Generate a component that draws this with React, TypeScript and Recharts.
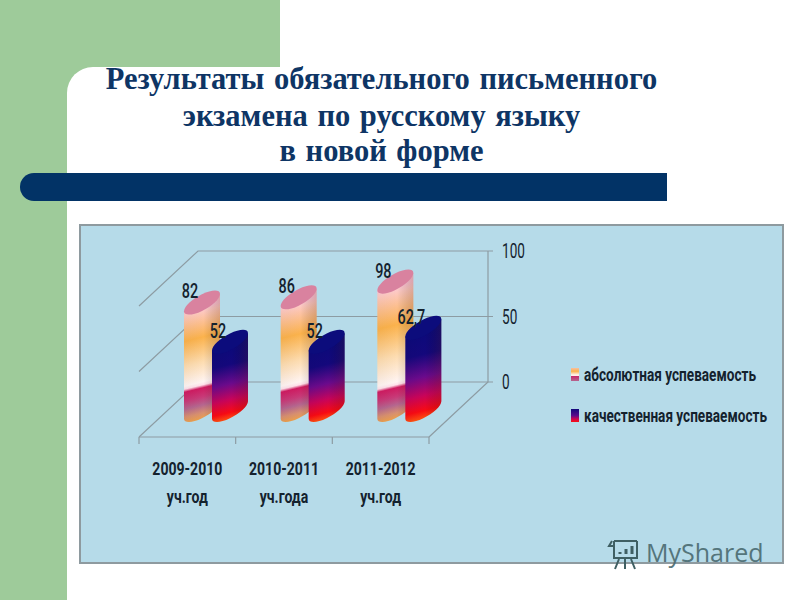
import { BarChart, Bar, XAxis, YAxis, CartesianGrid, Legend, LabelList } from 'recharts';

const CATEGORIES = ['2009-2010', '2010-2011', '2011-2012'];
const CATEGORY_UNITS = ['уч.год', 'уч.года', 'уч.год'];
const ABSOLUTE = [82, 86, 98];
const QUALITY = [52, 52, 62.7];
const Y_TICKS = [0, 50, 100];
const TITLE_LINES = [
  'Результаты обязательного письменного',
  'экзамена по русскому языку',
  'в новой форме',
];
const ABSOLUTE_NAME = 'абсолютная успеваемость';
const QUALITY_NAME = 'качественная успеваемость';

const data = CATEGORIES.map((category, i) => ({
  category,
  unit: CATEGORY_UNITS[i],
  absolute: ABSOLUTE[i],
  quality: QUALITY[i],
}));

// fake 3D: back wall sits up and right of the front floor edge, bars stand half way
const DEPTH_X = 59;
const DEPTH_Y = -55;
const BAR_DX = 29;
const BAR_DY = -27;
const LINE = '#8d9ca3';
const TEXT = '#14222e';
const FONT = 'Roboto, sans-serif';
const BAND = 290 / 3;

const SKEW = 8.7; // how much the cap rises from left to right
const CAP_B = 8.3;
const K = 0.5523;

function capPath(cx: number, cy: number, a: number) {
  const p = (u: number, v: number) => `${cx + a * u} ${cy - SKEW * u + CAP_B * v}`;
  return `M${p(1, 0)} C${p(1, K)} ${p(K, 1)} ${p(0, 1)} C${p(-K, 1)} ${p(-1, K)} ${p(-1, 0)} C${p(-1, -K)} ${p(-K, -1)} ${p(0, -1)} C${p(K, -1)} ${p(1, -K)} ${p(1, 0)} Z`;
}

function bodyPath(cx: number, top: number, bottom: number, a: number) {
  const p = (y: number, u: number, v: number) => `${cx + a * u} ${y - SKEW * u + CAP_B * v}`;
  return `M${p(top, -1, 0)} L${p(bottom, -1, 0)} C${p(bottom, -1, K)} ${p(bottom, -K, 1)} ${p(bottom, 0, 1)} C${p(bottom, K, 1)} ${p(bottom, 1, K)} ${p(bottom, 1, 0)} L${p(top, 1, 0)} Z`;
}

type Stop = [number, string];

function Cylinder(props: any) {
  const { x, y, width, height, index, kind } = props;
  const cx = x + width / 2 + BAR_DX;
  const top = y + BAR_DY;
  const bottom = y + height + BAR_DY;
  const a = width / 2;
  const end = bottom + 12;
  const H = end - top;
  const id = `${kind}-${index}`;
  // gradient runs across the tilt of the caps, but flatter than the caps themselves
  const slope = (SKEW / a) * 0.5;
  const u = (slope * H) / (1 + slope * slope);
  const at = (yy: number) => (yy - top) / H;

  let stops: Stop[];
  let capFill: string;
  if (kind === 'absolute') {
    const white = bottom - 25;
    const span = white - top;
    stops = [
      [at(top + 4), '#fbc4d6'],
      [at(top + span * 0.1), '#fdc9c4'],
      [at(top + span * 0.42), '#fbb24c'],
      [at(top + span * 0.72), '#fddcb0'],
      [at(white - 3), '#fff4f2'],
      [at(white), '#ffe0ea'],
      [at(white + 3), '#cf1c62'],
      [at(white + 12), '#c83a78'],
      [at(white + 20), '#b5668f'],
      [at(white + 28), '#d89070'],
      [1, '#f4a63c'],
    ];
    capFill = '#d9829f';
  } else {
    stops = [
      [0, '#0a0a7a'],
      [0.28, '#14087c'],
      [0.52, '#6a0a8c'],
      [0.72, '#c8045a'],
      [0.88, '#f80a14'],
      [1, '#ff6a10'],
    ];
    capFill = '#0c0c7c';
  }

  return (
    <g>
      <defs>
        <linearGradient
          id={id}
          gradientUnits="userSpaceOnUse"
          x1={cx}
          y1={top}
          x2={cx + u}
          y2={end - slope * u}
        >
          {stops.map(([offset, color]) => (
            <stop key={`${offset}-${color}`} offset={offset} stopColor={color} />
          ))}
        </linearGradient>
      </defs>
      <path d={bodyPath(cx, top, bottom, a)} fill={`url(#${id})`} />
      <path d={bodyPath(cx, top, bottom, a)} fill="url(#shade)" />
      <path d={capPath(cx, top, a)} fill={capFill} />
    </g>
  );
}

// calibri-ish narrow text: Roboto squeezed horizontally
function NarrowText({ x, y, sx, size, weight, anchor, children }: any) {
  return (
    <text
      transform={`translate(${x} ${y}) scale(${sx} 1)`}
      textAnchor={anchor || 'middle'}
      dominantBaseline="central"
      fontFamily={FONT}
      fontWeight={weight}
      fontSize={size}
      fill={TEXT}
    >
      {children}
    </text>
  );
}

function BarValue(props: any) {
  const { x, y, width, value } = props;
  return (
    <NarrowText x={x + width / 2 + BAR_DX - 12} y={y + BAR_DY - 11} sx={0.72} size={20} weight={500}>
      {String(value).replace('.', ',')}
    </NarrowText>
  );
}

function WallLine(props: any) {
  const { x1, x2, y1, y2 } = props;
  const d = `M${x1} ${y1} L${x1 + DEPTH_X} ${y1 + DEPTH_Y} L${x2 + DEPTH_X + 5} ${y2 + DEPTH_Y}`;
  return <path d={d} fill="none" stroke={LINE} strokeWidth={1.2} />;
}

function BackEdge(props: any) {
  const { x1, y1, y2 } = props;
  const d = `M${x1 + DEPTH_X} ${y1 + DEPTH_Y} L${x1 + DEPTH_X} ${y2 + DEPTH_Y} L${x1} ${y2}`;
  return <path d={d} fill="none" stroke={LINE} strokeWidth={1.2} />;
}

function YTick(props: any) {
  const { x, y, payload } = props;
  return (
    <NarrowText x={x + DEPTH_X + 6} y={y + DEPTH_Y} sx={0.68} size={20} weight={400} anchor="start">
      {payload.value}
    </NarrowText>
  );
}

function XTick(props: any) {
  const { x, y, payload, index } = props;
  const left = x - BAND / 2;
  return (
    <g>
      <line x1={left} x2={left} y1={y - 8} y2={y - 1} stroke={LINE} strokeWidth={1.2} />
      {index === CATEGORIES.length - 1 && (
        <line x1={left + BAND} x2={left + BAND} y1={y - 8} y2={y - 1} stroke={LINE} strokeWidth={1.2} />
      )}
      <NarrowText x={x} y={y + 23} sx={0.74} size={19} weight="bold">
        {payload.value}
      </NarrowText>
      <NarrowText x={x} y={y + 51} sx={0.74} size={19} weight="bold">
        {CATEGORY_UNITS[index]}
      </NarrowText>
    </g>
  );
}

const SWATCHES = [
  'linear-gradient(#f8c0a0 0%, #fbb24c 25%, #fff0e8 52%, #fff0e8 58%, #c8286c 62%, #b5668f 100%)',
  'linear-gradient(#12087c 0%, #5a0a8c 50%, #d00450 78%, #f81010 100%)',
];
const LEGEND_WIDTHS = [172, 183];

function LegendBox(props: any) {
  const { payload } = props;
  return (
    <div style={{ position: 'relative' }}>
      {(payload || []).map((entry: any, i: number) => (
        <div key={entry.value} style={{ position: 'absolute', left: 0, top: i * 41, width: 200, height: 24 }}>
          <span style={{ position: 'absolute', left: 0, top: 4, width: 8, height: 13, background: SWATCHES[i] }} />
          <svg style={{ position: 'absolute', left: 13, top: 0, overflow: 'visible' }} width={215} height={24}>
            <text
              x={0}
              y={17}
              textLength={LEGEND_WIDTHS[i]}
              lengthAdjust="spacingAndGlyphs"
              fontFamily={FONT}
              fontWeight="bold"
              fontSize={18}
              fill={TEXT}
            >
              {entry.value}
            </text>
          </svg>
        </div>
      ))}
    </div>
  );
}

export default function App() {
  return (
    <div style={{ position: 'absolute', left: 0, top: 0, width: 800, height: 600, background: '#fff', overflow: 'hidden' }}>
      <div style={{ position: 'absolute', left: 0, top: 0, width: 280, height: 100, background: '#9ecb9a' }} />
      <div style={{ position: 'absolute', left: 0, top: 0, width: 67, height: 600, background: '#9ecb9a' }} />
      <div style={{ position: 'absolute', left: 67, top: 67, width: 733, height: 533, background: '#fff', borderTopLeftRadius: 26 }} />
      <div style={{ position: 'absolute', left: 20, top: 173, width: 647, height: 28, background: '#023366', borderRadius: '14px 0 0 14px' }} />

      {TITLE_LINES.map((line, i) => (
        <div
          key={line}
          style={{
            position: 'absolute',
            left: 0,
            width: 763,
            top: [63, 100, 135][i],
            textAlign: 'center',
            fontFamily: '"Liberation Serif", serif',
            fontWeight: 'bold',
            fontSize: 30.5,
            wordSpacing: 2,
            lineHeight: '32px',
            color: '#0e3565',
          }}
        >
          {line}
        </div>
      ))}

      <div style={{ position: 'absolute', left: 79, top: 224, width: 701, height: 336, background: '#b6dbe9', border: '2px solid #8e9a9f' }} />

      <div style={{ position: 'absolute', left: 0, top: 0 }}>
        <BarChart
          width={800}
          height={600}
          data={data}
          margin={{ top: 306, bottom: 103, left: 139, right: 311 }}
          barSize={36}
          barGap={-8}
        >
          <defs>
            <linearGradient id="shade" x1="0" y1="0" x2="1" y2="0">
              <stop offset="0%" stopColor="#000" stopOpacity={0.03} />
              <stop offset="55%" stopColor="#000" stopOpacity={0} />
              <stop offset="100%" stopColor="#5a2000" stopOpacity={0.2} />
            </linearGradient>
          </defs>
          <CartesianGrid
            stroke={LINE}
            horizontal={(p: any) => <WallLine key={p.y1} {...p} />}
            vertical={(p: any) => <BackEdge key={p.x1} {...p} />}
            verticalPoints={[429]}
          />
          <XAxis
            dataKey="category"
            height={60}
            tick={<XTick />}
            tickLine={false}
            axisLine={{ stroke: LINE, strokeWidth: 1.2 }}
            interval={0}
          />
          <YAxis
            orientation="right"
            width={60}
            domain={[0, 100]}
            ticks={Y_TICKS}
            tick={<YTick />}
            tickLine={false}
            axisLine={false}
          />
          <Legend
            layout="vertical"
            verticalAlign="middle"
            align="center"
            wrapperStyle={{ left: 571, top: 364, width: 210 }}
            content={<LegendBox />}
          />
          <Bar
            dataKey="absolute"
            name={ABSOLUTE_NAME}
            fill="#fbb24c"
            isAnimationActive={false}
            shape={(p: any) => <Cylinder {...p} kind="absolute" />}
          >
            <LabelList dataKey="absolute" content={<BarValue />} />
          </Bar>
          <Bar
            dataKey="quality"
            name={QUALITY_NAME}
            fill="#14087c"
            isAnimationActive={false}
            shape={(p: any) => <Cylinder {...p} kind="quality" />}
          >
            <LabelList dataKey="quality" content={<BarValue />} />
          </Bar>
        </BarChart>
      </div>

      <div style={{ position: 'absolute', left: 646, top: 534, fontFamily: '"Open Sans", sans-serif', fontSize: 25, lineHeight: '36px', color: '#4a6a70', opacity: 0.9 }}>
        MyShared
      </div>
      <svg style={{ position: 'absolute', left: 606, top: 536 }} width={36} height={38} fill="none" stroke="#3f5f63" strokeWidth={2}>
        <path d="M8 5 H31 M8 5 V10 M31 5 V22 H8 V10 M8 10 H3 L6 5" />
        <path d="M14 18 V16 M20 18 V13 M26 18 V10" strokeWidth={3} />
        <path d="M13 23 L9 33 M19 23 V33 M25 23 L29 33" />
      </svg>
    </div>
  );
}
